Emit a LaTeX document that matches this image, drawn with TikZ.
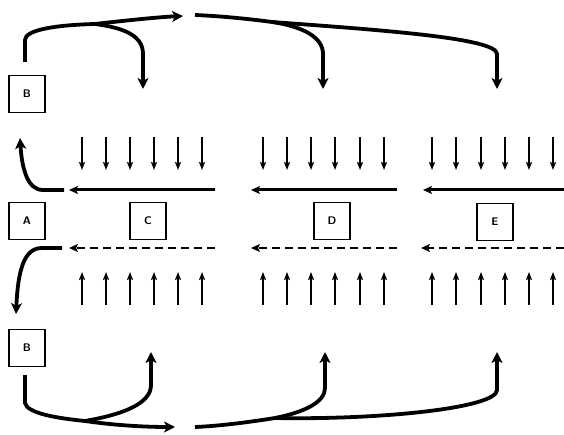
\documentclass[tikz,border=0pt]{standalone}
\usetikzlibrary{arrows.meta}
\begin{document}
\begin{tikzpicture}[x=1pt,y=-1pt,
  box/.style={draw,line width=1.1pt,minimum width=36pt,minimum height=37pt,inner sep=0pt,font=\sffamily\bfseries\fontsize{11}{12}\selectfont},
  flow/.style={line width=3.8pt,-{Stealth[length=11pt,width=11pt,inset=3pt]}},
  flowline/.style={line width=3.8pt},
  tick/.style={line width=2.3pt,-{Stealth[length=8pt,width=6pt,inset=1.5pt]}},
  hline/.style={line width=3pt,-{Stealth[length=9pt,width=8pt,inset=2pt]}},
  dline/.style={line width=2.8pt,dash pattern=on 8pt off 5pt,-{Stealth[length=9pt,width=8pt,inset=2pt]}}]
\useasboundingbox (0,0) rectangle (564,435);
% boxes
\node[box] (Btop) at (27,94) {B};
\node[box] (A) at (27,221) {A};
\node[box] (C) at (148,221) {C};
\node[box] (D) at (332,221) {D};
\node[box] (E) at (495,222) {E};
\node[box] (Bbot) at (27,348) {B};
% top flow coordinates
\coordinate (t0) at (25,62);
\coordinate (t1) at (25,40);
\coordinate (tsplit) at (95,24);
\coordinate (tend) at (183,16);
\coordinate (tC1) at (143,54);
\coordinate (tC) at (143,89);
\coordinate (u0) at (195,15);
\coordinate (usplit) at (272,22);
\coordinate (tD1) at (323,54);
\coordinate (tD) at (323,89);
\coordinate (tE1) at (497,54);
\coordinate (tE) at (497,89);
\draw[flowline] (t0) -- (t1) .. controls (25,30) and (55,25) .. (tsplit);
\draw[flow] (tsplit) .. controls (130,20) and (160,17) .. (tend);
\draw[flow] (tsplit) .. controls (125,28) and (143,36) .. (tC1) -- (tC);
\draw[flowline] (u0) .. controls (220,16) and (250,19) .. (usplit);
\draw[flow] (usplit) .. controls (305,27) and (323,38) .. (tD1) -- (tD);
\draw[flow] (usplit) .. controls (380,30) and (497,38) .. (tE1) -- (tE);
% bottom flow coordinates
\coordinate (b0) at (25,375);
\coordinate (b1) at (25,403);
\coordinate (bsplit) at (85,421);
\coordinate (bend) at (175,427);
\coordinate (bC1) at (151,385);
\coordinate (bC) at (151,352);
\coordinate (v0) at (195,427);
\coordinate (vsplit) at (275,418);
\coordinate (bD1) at (325,388);
\coordinate (bD) at (325,352);
\coordinate (bE1) at (497,390);
\coordinate (bE) at (497,352);
\draw[flowline] (b0) -- (b1) .. controls (27,413) and (55,418) .. (bsplit);
\draw[flow] (bsplit) .. controls (120,426) and (150,427) .. (bend);
\draw[flow] (bsplit) .. controls (125,414) and (151,403) .. (bC1) -- (bC);
\draw[flowline] (v0) .. controls (220,426) and (250,422) .. (vsplit);
\draw[flow] (vsplit) .. controls (305,412) and (325,402) .. (bD1) -- (bD);
\draw[flow] (vsplit) .. controls (380,420) and (497,408) .. (bE1) -- (bE);
% side arrows near A
\coordinate (a0) at (64,190);
\coordinate (a1) at (43,190);
\coordinate (atip) at (20,138);
\draw[flow] (a0) -- (a1) .. controls (28,190) and (22,170) .. (atip);
\coordinate (c0) at (62,248);
\coordinate (c1) at (42,248);
\coordinate (ctip) at (16,314);
\draw[flow] (c0) -- (c1) .. controls (24,248) and (18,270) .. (ctip);
% horizontal arrows
\coordinate (hC0) at (215,190); \coordinate (hC1) at (69,190);
\coordinate (hD0) at (397,190); \coordinate (hD1) at (251,190);
\coordinate (hE0) at (564,190); \coordinate (hE1) at (423,190);
\draw[hline] (hC0) -- (hC1);
\draw[hline] (hD0) -- (hD1);
\draw[hline] (hE0) -- (hE1);
\coordinate (dC0) at (215,248); \coordinate (dC1) at (69,248);
\coordinate (dD0) at (397,248); \coordinate (dD1) at (251,248);
\coordinate (dE0) at (564,248); \coordinate (dE1) at (421,248);
\draw[dline] (dC0) -- (dC1);
\draw[dline] (dD0) -- (dD1);
\draw[dline] (dE0) -- (dE1);
% vertical ticks
\foreach \x in {82,106,130,154,178,202,263,287,311,335,360,384,432,456,481,505,529,553}{
  \draw[tick] (\x,137) -- (\x,170);
  \draw[tick] (\x,305) -- (\x,272);
}
\end{tikzpicture}
\end{document}
